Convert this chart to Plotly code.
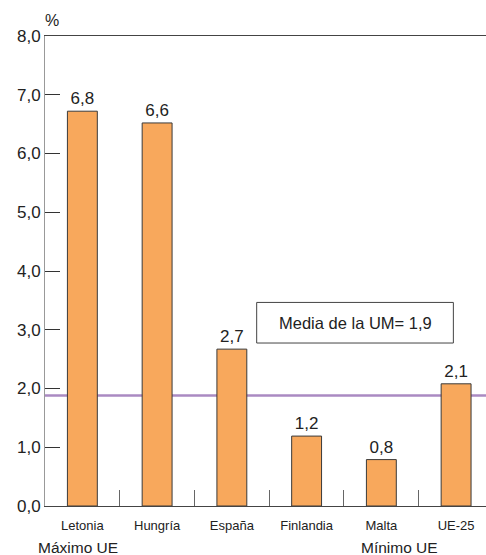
import plotly.graph_objects as go

categories = ["Letonia", "Hungría", "España", "Finlandia", "Malta", "UE-25"]
values = [6.72, 6.52, 2.67, 1.19, 0.79, 2.08]
value_labels = ["6,8", "6,6", "2,7", "1,2", "0,8", "2,1"]
mean_value = 1.88
mean_label = "Media de la UM= 1,9"
y_ticks = [0, 1, 2, 3, 4, 5, 6, 7, 8]

BAR = "#F8A85C"
num_font = "Liberation Sans, Arial, sans-serif"
narrow_font = "Liberation Sans Narrow, Arial Narrow, Liberation Sans, sans-serif"

fig = go.Figure()
fig.add_trace(go.Bar(
    x=categories, y=values, width=0.40,
    marker=dict(color=BAR, line=dict(color="#3a3a3a", width=1)),
    text=value_labels, textposition="outside", cliponaxis=False,
    textfont=dict(family=num_font, size=17, color="#222"),
    hoverinfo="skip",
))

fig.add_shape(type="line", xref="paper", x0=0, x1=1, yref="y", y0=mean_value, y1=mean_value,
              line=dict(color="#AA8AC2", width=2.5), layer="below")
fig.add_shape(type="rect", xref="paper", x0=0.48, x1=0.926, yref="y", y0=2.774, y1=3.465,
              line=dict(color="#444", width=1), fillcolor="white", layer="above")
fig.add_annotation(text=mean_label, xref="paper", x=0.703, yref="y", y=3.12, showarrow=False,
                   font=dict(family=num_font, size=16.5, color="#222"), xanchor="center", yanchor="middle")
fig.add_annotation(text="%", xref="paper", x=(51.7 - 45) / 441, yref="paper", y=1 + (36.2 - 21) / 470,
                   showarrow=False, font=dict(family=num_font, size=16, color="#222"),
                   xanchor="center", yanchor="middle")
fig.add_annotation(text="Máximo UE", xref="paper", x=0.0737, yref="paper", y=-0.0887,
                   showarrow=False, font=dict(family=num_font, size=15.5, color="#222"),
                   xanchor="center", yanchor="middle")
fig.add_annotation(text="Mínimo UE", xref="paper", x=0.803, yref="paper", y=-0.0887,
                   showarrow=False, font=dict(family=num_font, size=15.5, color="#222"),
                   xanchor="center", yanchor="middle")

fig.update_layout(
    width=486, height=555,
    margin=dict(l=45, r=0, t=36, b=49),
    paper_bgcolor="white", plot_bgcolor="white",
    separators=",.",
    showlegend=False,
    bargap=0.6,
)
fig.update_xaxes(
    type="category", range=[-0.5, 5.4],
    showline=True, linecolor="#444", linewidth=1, mirror=True,
    ticks="inside", tickson="boundaries", ticklen=16, tickcolor="#666", tickwidth=1,
    showgrid=False, zeroline=False,
    ticklabelstandoff=7,
    tickfont=dict(family=narrow_font, size=13, color="#222"),
)
fig.update_yaxes(
    range=[0, 8], tickvals=y_ticks, tickformat=".1f",
    showline=True, linecolor="#999", linewidth=1,
    ticks="inside", ticklen=15, tickcolor="#333", tickwidth=1,
    showgrid=False, zeroline=False,
    tickfont=dict(family=num_font, size=17, color="#222"),
)

fig.write_html(
    "out.html",
    config={"displayModeBar": False},
    post_script="document.body.style.margin='0';document.body.style.overflow='hidden';",
)
